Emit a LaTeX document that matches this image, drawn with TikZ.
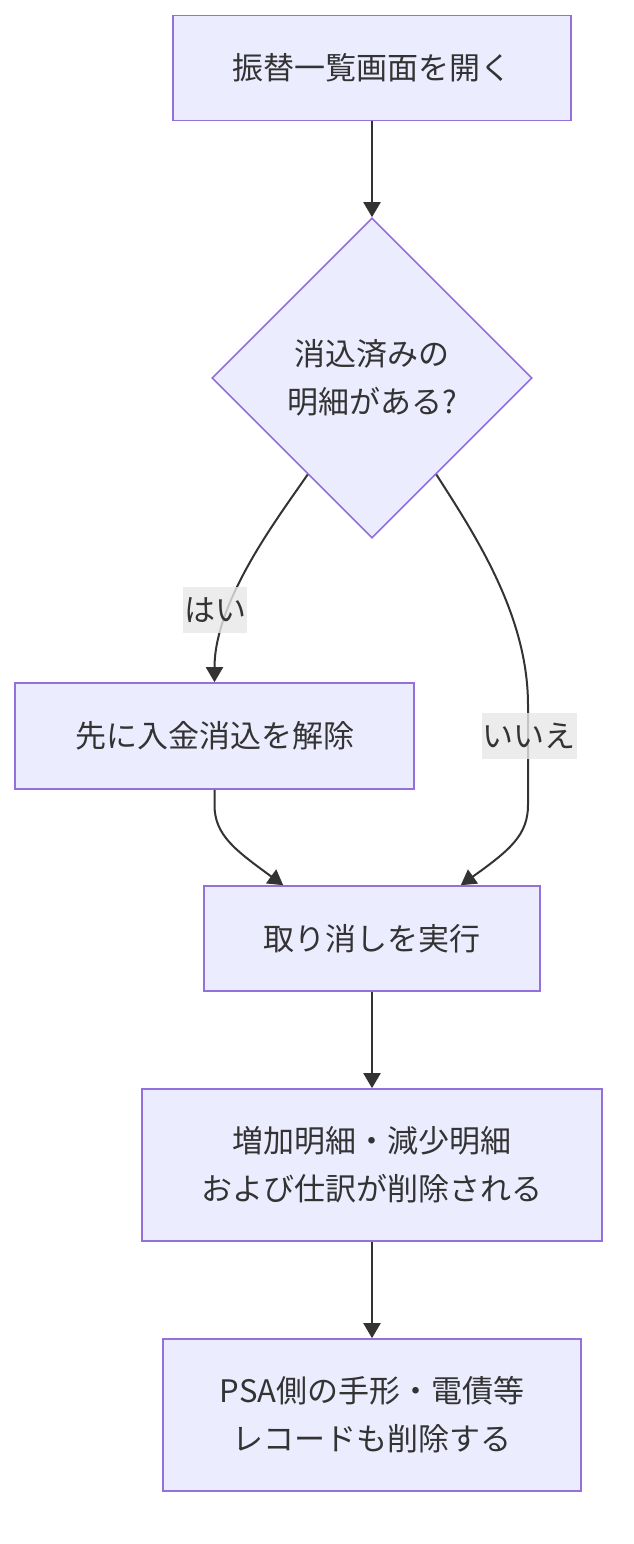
\documentclass[tikz,border=0pt]{standalone}
\usepackage{fontspec}
\setmainfont{Noto Sans CJK JP}
\usetikzlibrary{shapes.geometric,arrows.meta,calc}
\definecolor{boxfill}{HTML}{ECECFF}
\definecolor{boxline}{HTML}{9370DB}
\definecolor{edgecol}{HTML}{333333}
\definecolor{txtcol}{HTML}{333333}
\definecolor{lblbg}{HTML}{E8E8E8}
\begin{document}
\begin{tikzpicture}[x=1pt,y=-1pt,
  every node/.style={font=\fontsize{31}{48}\selectfont, text=txtcol},
  procbox/.style={draw=boxline, fill=boxfill, line width=1.6pt, inner sep=0pt, align=center},
  decbox/.style={draw=boxline, fill=boxfill, line width=1.6pt, shape=diamond, inner sep=0pt, minimum width=320pt, minimum height=320pt, align=center},
  edge/.style={draw=edgecol, line width=2pt, -{Triangle[length=15pt,width=17pt]}},
  elabel/.style={fill=lblbg, fill opacity=0.8, text opacity=1, inner xsep=1pt, inner ysep=0pt, minimum height=46pt}
]
\useasboundingbox (0,0) rectangle (634,1544);
\fill[white] (0,0) rectangle (634,1544);

\node[procbox, minimum width=398pt, minimum height=105pt] (b1) at (372,68) {振替一覧画面を開く};
\node[decbox] (d) at (372,378) {消込済みの\\明細がある?};
\node[procbox, minimum width=399pt, minimum height=106pt] (b3) at (214.5,736) {先に入金消込を解除};
\node[procbox, minimum width=336pt, minimum height=105pt] (b4) at (372,938.5) {取り消しを実行};
\node[procbox, minimum width=460pt, minimum height=152pt] (b5) at (372,1165) {増加明細・減少明細\\および仕訳が削除される};
\node[procbox, minimum width=418pt, minimum height=152pt] (b6) at (372,1415) {PSA側の手形・電債等\\レコードも削除する};

\coordinate (dl) at ($(d.west)!0.6!(d.south)$);
\coordinate (dr) at ($(d.east)!0.6!(d.south)$);
\coordinate (b4l) at ($(b4.north west)+(80,0)$);
\coordinate (b4r) at ($(b4.north east)+(-80,0)$);

\draw[edge] (b1.south) -- (d.north);
\draw[edge] (dl) .. controls (280,515) and (214.5,600) .. (b3.north);
\draw[edge] (dr) .. controls (475,535) and (528,615) .. (528,705) -- (528,805) .. controls (528,835) and (510,850) .. (b4r);
\draw[edge] (b3.south) -- (214.5,805) .. controls (214.5,835) and (235,850) .. (b4l);
\draw[edge] (b4.south) -- (b5.north);
\draw[edge] (b5.south) -- (b6.north);

\node[elabel] (ly) at (215,610) {はい};
\node[elabel] (ln) at (529,736) {いいえ};
\end{tikzpicture}
\end{document}
